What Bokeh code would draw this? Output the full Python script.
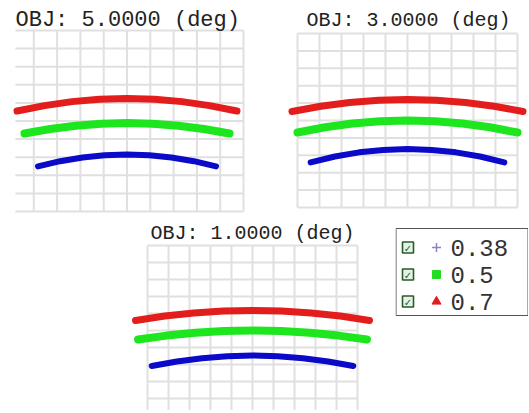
from bokeh.plotting import figure
from bokeh.layouts import column, row, Spacer
from bokeh.models import Range1d
from bokeh.core.properties import value
from bokeh.embed import file_html
from bokeh.resources import INLINE

# ---------------- data ----------------
field_angles = [5.0, 3.0, 1.0]
wavelengths = ["0.38", "0.5", "0.7"]

# OBJ 5.0 deg
obj5_x_070 = [-4.72, -3.54, -2.36, -1.18, 0.0, 1.18, 2.36, 3.54, 4.72]
obj5_y_070 = [0.55, 0.85, 1.07, 1.20, 1.24, 1.20, 1.07, 0.85, 0.55]
obj5_x_050 = [-4.40, -3.30, -2.20, -1.10, 0.0, 1.10, 2.20, 3.30, 4.40]
obj5_y_050 = [-0.69, -0.44, -0.26, -0.15, -0.11, -0.15, -0.26, -0.44, -0.69]
obj5_x_038 = [-3.82, -2.87, -1.91, -0.96, 0.0, 0.96, 1.91, 2.87, 3.82]
obj5_y_038 = [-2.51, -2.22, -2.02, -1.89, -1.85, -1.89, -2.02, -2.22, -2.51]

# OBJ 3.0 deg
obj3_x_070 = [-5.25, -3.94, -2.63, -1.31, 0.0, 1.31, 2.63, 3.94, 5.25]
obj3_y_070 = [0.52, 0.82, 1.04, 1.17, 1.21, 1.17, 1.04, 0.82, 0.52]
obj3_x_050 = [-5.00, -3.75, -2.50, -1.25, 0.0, 1.25, 2.50, 3.75, 5.00]
obj3_y_050 = [-0.69, -0.39, -0.17, -0.04, 0.00, -0.04, -0.17, -0.39, -0.69]
obj3_x_038 = [-4.40, -3.30, -2.20, -1.10, 0.0, 1.10, 2.20, 3.30, 4.40]
obj3_y_038 = [-2.41, -2.07, -1.83, -1.69, -1.64, -1.69, -1.83, -2.07, -2.41]

# OBJ 1.0 deg
obj1_x_070 = [-5.57, -4.18, -2.79, -1.39, 0.0, 1.39, 2.79, 4.18, 5.57]
obj1_y_070 = [0.59, 0.85, 1.03, 1.14, 1.18, 1.14, 1.03, 0.85, 0.59]
obj1_x_050 = [-5.45, -4.09, -2.73, -1.36, 0.0, 1.36, 2.73, 4.09, 5.45]
obj1_y_050 = [-0.53, -0.30, -0.13, -0.03, 0.00, -0.03, -0.13, -0.30, -0.53]
obj1_x_038 = [-4.80, -3.60, -2.40, -1.20, 0.0, 1.20, 2.40, 3.60, 4.80]
obj1_y_038 = [-2.09, -1.82, -1.63, -1.51, -1.47, -1.51, -1.63, -1.82, -2.09]

grid_ticks = [-5, -4, -3, -2, -1, 0, 1, 2, 3, 4, 5]

# ---------------- style ----------------
COLORS = {"0.38": "#0a0ac8", "0.5": "#1ee61e", "0.7": "#e31c1c"}
WIDTHS = {"0.38": 6, "0.5": 8, "0.7": 7}
GRID_COLOR = "#e0e0e0"
TITLE_COLOR = "#222222"
MONO = "Liberation Mono"


def bare(p):
    p.min_border = 0
    p.min_border_left = 0
    p.min_border_right = 0
    p.min_border_top = 0
    p.min_border_bottom = 0
    p.outline_line_color = None
    p.xgrid.visible = False
    p.ygrid.visible = False
    p.background_fill_color = "white"
    p.border_fill_color = "white"


def make_panel(w, h, xr, yr, vticks, hx0, angle, tx, ty, fsize, series):
    p = figure(width=w, height=h, x_range=Range1d(*xr), y_range=Range1d(*yr),
               output_backend="svg", toolbar_location=None,
               x_axis_location=None, y_axis_location=None)
    bare(p)
    # grid drawn as segments
    p.segment(x0=vticks, x1=vticks, y0=[-5] * len(vticks), y1=[5] * len(vticks),
              line_color=GRID_COLOR, line_width=2)
    p.segment(x0=[hx0] * len(grid_ticks), x1=[5] * len(grid_ticks),
              y0=grid_ticks, y1=grid_ticks, line_color=GRID_COLOR, line_width=2)
    for name, xs, ys in series:
        p.line(xs, ys, line_color=COLORS[name], line_width=WIDTHS[name],
               line_cap="round", line_join="round")
    p.text(x=[tx], y=[ty], text=[f"OBJ: {angle:.4f} (deg)"],
           text_font=value(MONO), text_font_size=f"{fsize}px",
           text_color=TITLE_COLOR, text_baseline="middle", text_align="left")
    return p


p1 = make_panel(260, 212, (-5.086, 6.073), (-5.497, 6.215), grid_ticks[1:], -4.79,
                field_angles[0], -4.785, 5.55, 22,
                [("0.7", obj5_x_070, obj5_y_070),
                 ("0.5", obj5_x_050, obj5_y_050),
                 ("0.38", obj5_x_038, obj5_y_038)])

p2 = make_panel(259, 212, (-6.318, 5.455), (-5.747, 6.437), grid_ticks, -5,
                field_angles[1], -4.59, 5.75, 20,
                [("0.7", obj3_x_070, obj3_y_070),
                 ("0.5", obj3_x_050, obj3_y_050),
                 ("0.38", obj3_x_038, obj3_y_038)])

p3 = make_panel(250, 190, (-5.905, 6.0), (-4.706, 6.47), grid_ticks, -5,
                field_angles[2], -4.857, 5.71, 20,
                [("0.7", obj1_x_070, obj1_y_070),
                 ("0.5", obj1_x_050, obj1_y_050),
                 ("0.38", obj1_x_038, obj1_y_038)])

# ---------------- legend ----------------
lg = figure(width=133, height=190, x_range=Range1d(0, 133), y_range=Range1d(190, 0),
            output_backend="svg", toolbar_location=None,
            x_axis_location=None, y_axis_location=None)
bare(lg)
lg.quad(left=[0.5], right=[132.5], top=[8], bottom=[95], fill_color="white",
        line_color="#555555", line_width=1)
row_y = [27, 54, 81]
lg.scatter(x=[12.5] * 3, y=row_y, marker="square", size=11,
           fill_color="#e6f2e6", line_color="#2a5a2a", line_width=1.6)
lg.text(x=[12.5] * 3, y=[v + 0.5 for v in row_y], text=["\u2713"] * 3,
        text_font=value("DejaVu Sans"), text_font_size="10px",
        text_color="#2a5a2a", text_align="center", text_baseline="middle")
lg.scatter(x=[41] * 3, y=row_y, marker=["cross", "square", "triangle"],
           size=[9, 8, 9], fill_color=["#8585c5", "#22dd22", "#e01e1e"],
           line_color=["#8585c5", "#22dd22", "#e01e1e"], line_width=[1.5, 1, 1])
lg.text(x=[55] * 3, y=row_y, text=wavelengths, text_font=value(MONO),
        text_font_size="24px", text_color="#333333", text_align="left",
        text_baseline="middle")

layout = column(Spacer(width=529, height=8),
                row(Spacer(width=8, height=212), p1, p2),
                row(Spacer(width=128, height=190), p3, Spacer(width=17, height=190), lg))

open("out.html", "w").write(file_html(layout, INLINE))
